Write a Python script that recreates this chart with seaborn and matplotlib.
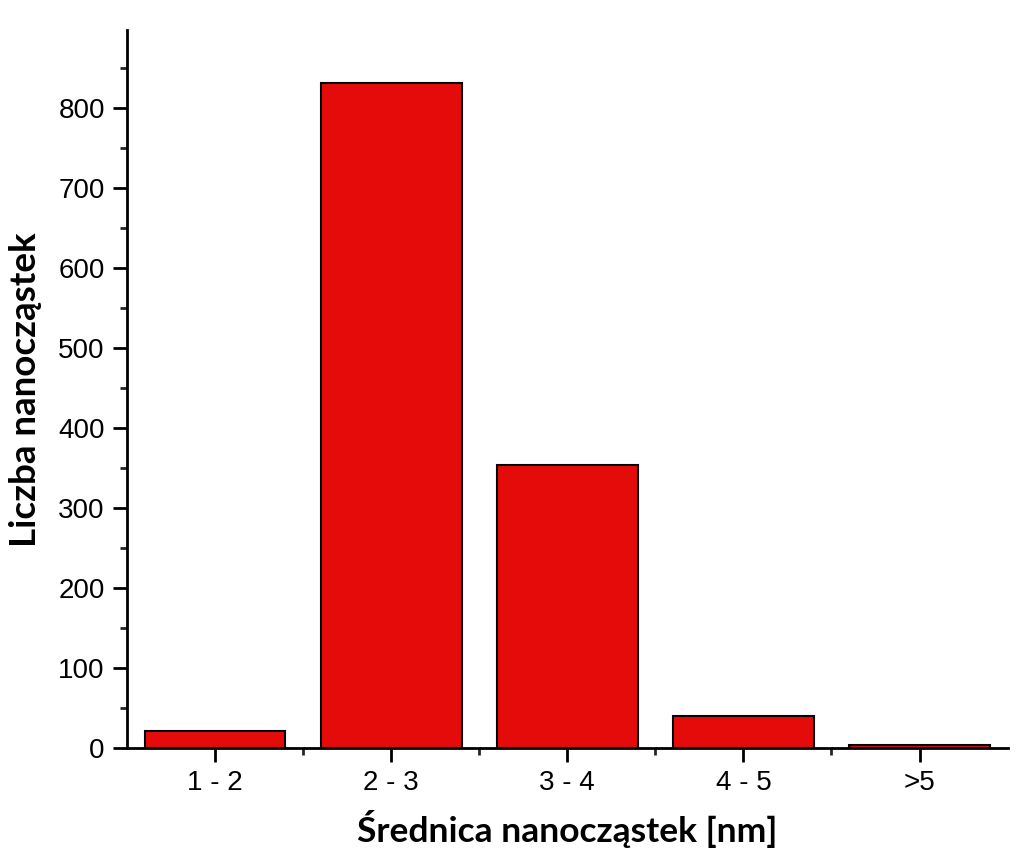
import numpy as np
import pandas as pd
import matplotlib
matplotlib.use("Agg")
import matplotlib.pyplot as plt
import seaborn as sns
from matplotlib.ticker import MultipleLocator

# data
categories = ["1 - 2", "2 - 3", "3 - 4", "4 - 5", ">5"]
counts = [21, 831, 354, 40, 4]

df = pd.DataFrame({"size": categories, "count": counts})

sns.set_style("ticks")
plt.rcParams["font.family"] = ["Liberation Sans", "DejaVu Sans"]
plt.rcParams["text.color"] = "black"
plt.rcParams["axes.labelcolor"] = "black"

fig = plt.figure(figsize=(10.24, 8.67), dpi=100)
ax = fig.add_axes([0.124, 0.137, 0.86, 0.828])

sns.barplot(data=df, x="size", y="count", color="#e60b0b", saturation=1,
            width=0.8, edgecolor="black", linewidth=1.5, ax=ax)

ax.set_xlim(-0.5, 4.5)
ax.set_ylim(0, 897)
ax.yaxis.set_major_locator(MultipleLocator(100))
ax.yaxis.set_minor_locator(MultipleLocator(50))
ax.set_xticks(np.arange(len(categories)))
ax.set_xticks(np.arange(len(categories) - 1) + 0.5, minor=True)
ax.set_xticklabels(categories)

for side in ["top", "right"]:
    ax.spines[side].set_visible(False)
for side in ["left", "bottom"]:
    ax.spines[side].set_linewidth(2)
    ax.spines[side].set_color("black")

ax.tick_params(axis="both", which="major", direction="out", length=10, width=2,
               labelsize=20, colors="black", pad=6)
ax.tick_params(axis="both", which="minor", direction="out", length=5, width=2)

xfont = {"family": ["Lato", "Open Sans", "DejaVu Sans"], "weight": "bold", "size": 25.5}
yfont = {"family": ["Lato", "Open Sans", "DejaVu Sans"], "weight": "bold", "size": 26.5}
ax.set_xlabel("Średnica nanocząstek [nm]", fontdict=xfont, labelpad=10, color="black")
ax.set_ylabel("Liczba nanocząstek", fontdict=yfont, labelpad=12, color="black")

fig.savefig("out.png", dpi=100)
